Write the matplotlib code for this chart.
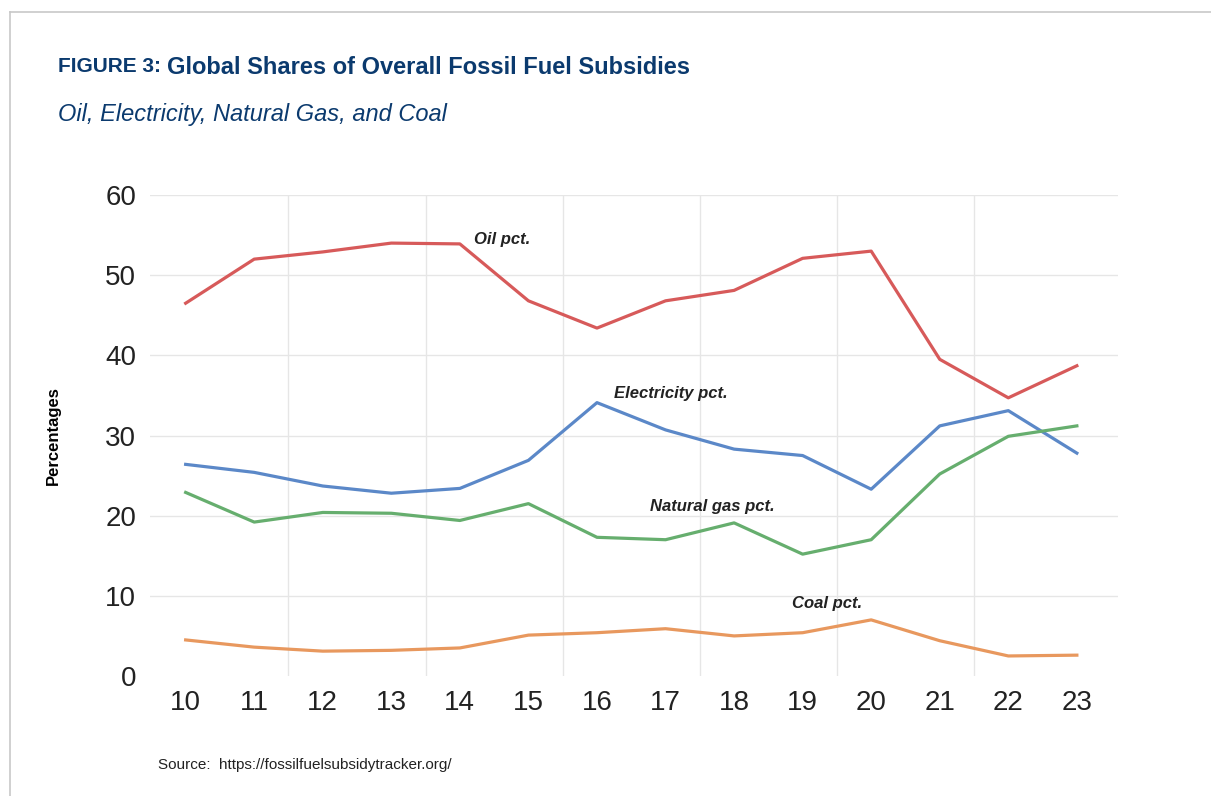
import matplotlib.pyplot as plt

years = ["10", "11", "12", "13", "14", "15", "16", "17", "18", "19", "20", "21", "22", "23"]
oil = [46.5, 52.0, 52.9, 54.0, 53.9, 46.8, 43.4, 46.8, 48.1, 52.1, 53.0, 39.5, 34.7, 38.7]
electricity = [26.4, 25.4, 23.7, 22.8, 23.4, 26.9, 34.1, 30.7, 28.3, 27.5, 23.3, 31.2, 33.1, 27.8]
natural_gas = [22.9, 19.2, 20.4, 20.3, 19.4, 21.5, 17.3, 17.0, 19.1, 15.2, 17.0, 25.2, 29.9, 31.2]
coal = [4.5, 3.6, 3.1, 3.2, 3.5, 5.1, 5.4, 5.9, 5.0, 5.4, 7.0, 4.4, 2.5, 2.6]
yticks = [0, 10, 20, 30, 40, 50, 60]

navy = "#0b3a6e"
plt.rcParams["font.family"] = ["Liberation Sans", "DejaVu Sans"]

fig = plt.figure(figsize=(12.11, 7.96), dpi=100)

# thin grey frame round the figure (top and left edges visible)
fig.add_artist(plt.Line2D([10 / 1211, 1], [1 - 12 / 796, 1 - 12 / 796], color="#c8c8c8", lw=1.2))
fig.add_artist(plt.Line2D([10 / 1211, 10 / 1211], [0, 1 - 12 / 796], color="#c8c8c8", lw=1.2))

# title: smaller "FIGURE 3:" followed by the main title
t1 = fig.text(58 / 1211, 1 - 67 / 796, "FIGURE 3:", fontsize=15, fontweight="bold", color=navy,
              va="center")
fig.canvas.draw()
bb = t1.get_window_extent()
fig.text(bb.x1 / fig.bbox.width + 6 / 1211, 1 - 67 / 796, "Global Shares of Overall Fossil Fuel Subsidies",
         fontsize=17, fontweight="bold", color=navy, va="center")
fig.text(58 / 1211, 1 - 115 / 796, "Oil, Electricity, Natural Gas, and Coal", fontsize=17,
         style="italic", color=navy, va="center")

ax = fig.add_axes([150 / 1211, 1 - 676 / 796, (1118 - 150) / 1211, (676 - 195) / 796])
x = list(range(len(years)))

ax.plot(x, oil, color="#d75a5a", lw=2.3)
ax.plot(x, electricity, color="#5b88c8", lw=2.3)
ax.plot(x, natural_gas, color="#66ae6e", lw=2.3)
ax.plot(x, coal, color="#e8985e", lw=2.3)

ax.set_xlim(-0.52, 13.6)
ax.set_ylim(0, 60)
ax.set_xticks(x)
ax.set_xticklabels(years)
ax.set_yticks(yticks)

for yv in yticks[1:]:
    ax.axhline(yv, color="#e6e6e6", lw=1, zorder=0)
for xv in [1.5, 3.5, 5.5, 7.5, 9.5, 11.5]:
    ax.axvline(xv, color="#e6e6e6", lw=1, zorder=0)

for s in ax.spines.values():
    s.set_visible(False)
ax.tick_params(length=0, labelsize=20, colors="#222222")
ax.tick_params(axis="x", pad=10)
ax.tick_params(axis="y", pad=10)

ax.set_ylabel("Percentages", fontsize=12, fontweight="bold", labelpad=32)

ann = dict(fontsize=12, fontweight="bold", style="italic", color="#222222", va="center")
ax.text(4.21, 54.4, "Oil pct.", **ann)
ax.text(6.25, 35.3, "Electricity pct.", **ann)
ax.text(6.78, 21.2, "Natural gas pct.", **ann)
ax.text(8.85, 9.1, "Coal pct.", **ann)

fig.text(158 / 1211, 1 - 765 / 796, "Source:  https://fossilfuelsubsidytracker.org/", fontsize=11,
         color="#222222", va="center")

fig.savefig("out.png", dpi=100)
